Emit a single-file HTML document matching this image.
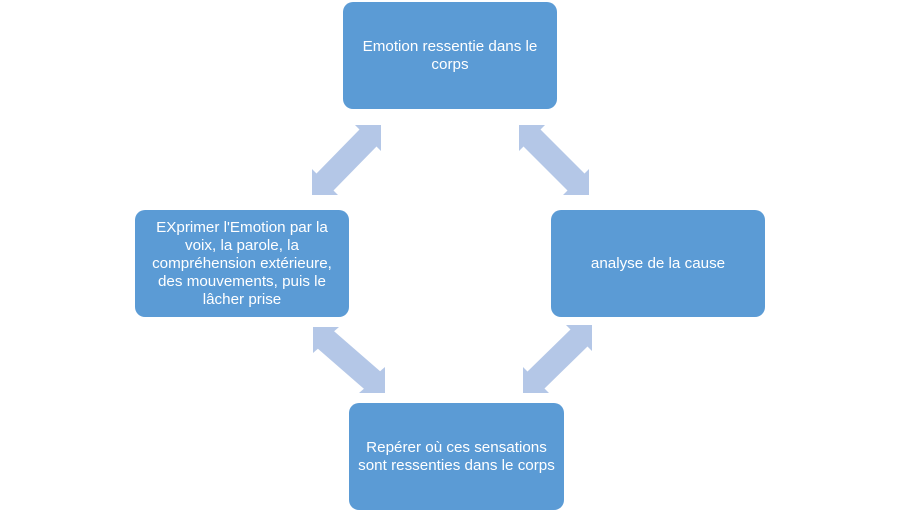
<!DOCTYPE html>
<html>
<head>
<meta charset="utf-8">
<style>
  html,body{margin:0;padding:0;background:#fff;}
  body{width:900px;height:526px;position:relative;overflow:hidden;font-family:"Liberation Sans",Arial,sans-serif;}
  svg{position:absolute;left:0;top:0;}
  .box{position:absolute;background:#5B9BD5;border-radius:10px;color:#fff;display:flex;align-items:center;justify-content:center;text-align:center;font-size:15.2px;line-height:18px;}
</style>
</head>
<body>
<svg width="900" height="526" viewBox="0 0 900 526">
  <g fill="#B4C7E7">
    <polygon points="381,125 381,151 376.5,146.5 333.5,190.5 338,195 312,195 312,169 316.5,173.5 359.5,129.5 355,125"/>
    <polygon points="519,125 545,125 540.5,129.5 584.5,173.5 589,169 589,195 563,195 567.5,190.5 523.5,146.5 519,151"/>
    <polygon points="313,327 339,327 334.1,331.2 380.1,371.2 385,367 385,393 359,393 363.9,388.8 317.9,348.8 313,353"/>
    <polygon points="592,325 592,351 587.5,346.5 544.5,388.5 549,393 523,393 523,367 527.5,371.5 570.5,329.5 566,325"/>
  </g>
</svg>
<div class="box" style="left:343px;top:2px;width:214px;height:107px;">Emotion ressentie dans le<br>corps</div>
<div class="box" style="left:135px;top:210px;width:214px;height:107px;">EXprimer l'Emotion par la<br>voix, la parole, la<br>compréhension extérieure,<br>des mouvements, puis le<br>lâcher prise</div>
<div class="box" style="left:551px;top:210px;width:214px;height:107px;">analyse de la cause</div>
<div class="box" style="left:349px;top:403px;width:215px;height:107px;">Repérer où ces sensations<br>sont ressenties dans le corps</div>
</body>
</html>
